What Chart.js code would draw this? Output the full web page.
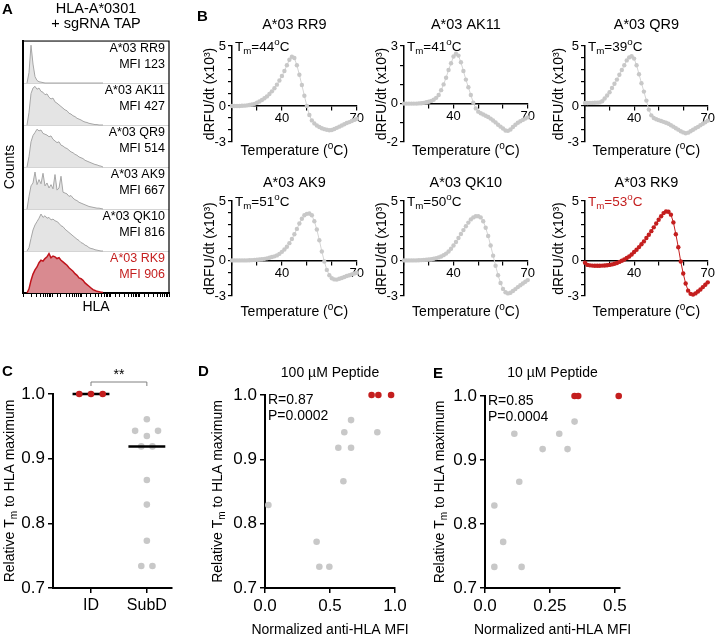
<!DOCTYPE html>
<html>
<head>
<meta charset="utf-8">
<script src="https://cdn.jsdelivr.net/npm/chart.js@4.4.1/dist/chart.umd.min.js"></script>
<style>
  body { margin: 0; background: #fff; }
  #fig { position: relative; width: 716px; height: 637px; overflow: hidden; font-family: "Liberation Sans", Arial, sans-serif; }
  #fig canvas { position: absolute; }
  .tag { position: absolute; font-weight: bold; font-size: 15px; line-height: 15px; }
</style>
</head>
<body>
<div id="fig">
  <canvas id="histo" width="175" height="318" style="left:0;top:0"></canvas>
  <canvas id="mRR9" width="167" height="146" style="left:198px;top:14px"></canvas>
  <canvas id="mAK11" width="166" height="146" style="left:370px;top:14px"></canvas>
  <canvas id="mQR9" width="165" height="146" style="left:551px;top:14px"></canvas>
  <canvas id="mAK9" width="167" height="152" style="left:198px;top:168px"></canvas>
  <canvas id="mQK10" width="166" height="152" style="left:370px;top:168px"></canvas>
  <canvas id="mRK9" width="165" height="152" style="left:551px;top:168px"></canvas>
  <canvas id="groups" width="200" height="282" style="left:0;top:355px"></canvas>
  <canvas id="pep100" width="215" height="282" style="left:200px;top:355px"></canvas>
  <canvas id="pep10" width="296" height="282" style="left:420px;top:355px"></canvas>
  <div class="tag" style="left:2px;top:1px">A</div>
  <div class="tag" style="left:197px;top:8px">B</div>
  <div class="tag" style="left:2px;top:363px">C</div>
  <div class="tag" style="left:198px;top:363px">D</div>
  <div class="tag" style="left:433px;top:365px">E</div>
</div>
<script>
const GREY = '#c8c8c8';
const RED = '#c41e1e';
Chart.defaults.font.family = '"Liberation Sans", Arial, sans-serif';
Chart.defaults.color = '#000';
Chart.defaults.animation = false;

// ---- panel A: HLA histograms (top lane first), bin = channel offset
const hlaBins = [4, 6, 8, 10, 12, 14, 16, 18, 20, 22, 24, 26, 28, 30, 32, 34, 36, 38, 40, 42,
  44, 46, 48, 50, 52, 54, 56, 58, 60, 62, 64, 66, 68, 70, 72, 74, 76, 78, 80];
const histRR9 = [0, 0.25, 0.9, 0.45, 0.15, 0.06, 0.03, 0.02, 0.01, 0, 0, 0, 0, 0, 0, 0, 0, 0, 0, 0,
  0, 0, 0, 0, 0, 0, 0, 0, 0, 0, 0, 0, 0, 0, 0, 0, 0, 0, 0];
const histAK11 = [0, 0.3, 0.75, 0.88, 0.92, 0.85, 0.88, 0.8, 0.78, 0.72, 0.74, 0.66, 0.62, 0.64, 0.55, 0.52, 0.48, 0.44, 0.4, 0.36,
  0.34, 0.28, 0.26, 0.22, 0.2, 0.16, 0.14, 0.12, 0.09, 0.07, 0.06, 0.04, 0.03, 0.02, 0.01, 0.01, 0, 0, 0];
const histQR9 = [0, 0.25, 0.6, 0.75, 0.82, 0.9, 0.86, 0.88, 0.8, 0.78, 0.76, 0.72, 0.74, 0.66, 0.62, 0.58, 0.6, 0.52, 0.5, 0.46,
  0.44, 0.4, 0.36, 0.34, 0.3, 0.28, 0.24, 0.22, 0.2, 0.16, 0.14, 0.12, 0.1, 0.08, 0.06, 0.05, 0.03, 0.02, 0];
const histAK9 = [0, 0.3, 0.55, 0.62, 0.88, 0.58, 0.7, 0.6, 0.85, 0.55, 0.62, 0.5, 0.58, 0.48, 0.82, 0.45, 0.5, 0.78, 0.4, 0.38,
  0.36, 0.3, 0.32, 0.26, 0.22, 0.2, 0.16, 0.14, 0.12, 0.1, 0.08, 0.06, 0.05, 0.04, 0.03, 0.02, 0.02, 0.01, 0];
const histQK10 = [0, 0.08, 0.3, 0.5, 0.62, 0.7, 0.78, 0.88, 0.8, 0.84, 0.78, 0.8, 0.74, 0.76, 0.72, 0.7, 0.66, 0.6, 0.58, 0.52,
  0.48, 0.44, 0.4, 0.36, 0.32, 0.28, 0.25, 0.2, 0.18, 0.14, 0.12, 0.08, 0.06, 0.05, 0.03, 0.02, 0.01, 0, 0];
const histRK9 = [0, 0.1, 0.3, 0.45, 0.55, 0.62, 0.72, 0.78, 0.76, 0.82, 0.86, 0.94, 0.84, 0.88, 0.86, 0.82, 0.84, 0.78, 0.74, 0.7,
  0.66, 0.6, 0.56, 0.52, 0.46, 0.42, 0.36, 0.34, 0.3, 0.24, 0.2, 0.16, 0.12, 0.08, 0.06, 0.04, 0.03, 0.02, 0.01];
const laneNames = ['A*03 RR9', 'A*03 AK11', 'A*03 QR9', 'A*03 AK9', 'A*03 QK10', 'A*03 RK9'];
const laneMfi = [123, 427, 514, 667, 816, 906];

// ---- panel B: melt curves, dRFU/dt (x10^3)
const temps = [20, 21, 22, 23, 24, 25, 26, 27, 28, 29, 30, 31, 32, 33, 34, 35, 36, 37, 38, 39, 40,
  41, 42, 43, 44, 45, 46, 47, 48, 49, 50, 51, 52, 53, 54, 55, 56, 57, 58, 59, 60,
  61, 62, 63, 64, 65, 66, 67, 68, 69, 70];
const rr9Melt = [0, 0, 0, 0, 0.02, 0.03, 0.05, 0.08, 0.12, 0.18, 0.27, 0.38, 0.5, 0.65, 0.8, 1.0, 1.22, 1.48, 1.78, 2.12, 2.5,
  2.92, 3.4, 3.85, 4.1, 4.0, 3.4, 2.6, 1.75, 0.85, 0, -0.75, -1.2, -1.45, -1.62, -1.75, -1.85, -1.93, -1.98, -2.02, -2.0,
  -1.92, -1.82, -1.72, -1.62, -1.52, -1.42, -1.34, -1.25, -1.16, -1.08];
const ak11Melt = [0, 0, 0, 0, 0, 0, 0.01, 0.02, 0.04, 0.07, 0.1, 0.14, 0.2, 0.3, 0.45, 0.7, 1.0, 1.35, 1.75, 2.1, 2.45,
  2.6, 2.5, 2.15, 1.7, 1.25, 0.85, 0.45, 0.05, -0.25, -0.42, -0.5, -0.57, -0.63, -0.7, -0.78, -0.88, -0.98, -1.1, -1.2, -1.3,
  -1.4, -1.42, -1.35, -1.22, -1.1, -1.0, -0.92, -0.85, -0.78, -0.72];
const qr9Melt = [0.25, 0.25, 0.26, 0.26, 0.27, 0.28, 0.3, 0.4, 0.62, 0.88, 1.15, 1.5, 1.85, 2.2, 2.6, 3.0, 3.4, 3.8, 4.05, 4.15, 3.95,
  3.4, 2.65, 1.9, 1.2, 0.45, -0.3, -0.78, -1.0, -1.1, -1.18, -1.25, -1.32, -1.4, -1.48, -1.6, -1.72, -1.85, -1.97, -2.1, -2.2,
  -2.27, -2.22, -2.1, -1.98, -1.86, -1.74, -1.6, -1.48, -1.35, -1.22];
const ak9Melt = [0, 0, 0, 0, 0, 0, 0, 0.01, 0.02, 0.03, 0.05, 0.07, 0.1, 0.13, 0.17, 0.22, 0.28, 0.34, 0.42, 0.55, 0.72,
  0.92, 1.15, 1.45, 1.8, 2.2, 2.65, 3.1, 3.5, 3.8, 3.92, 3.95, 3.8, 3.3, 2.6, 1.7, 0.75, -0.1, -0.8, -1.25, -1.5,
  -1.6, -1.62, -1.55, -1.48, -1.4, -1.32, -1.25, -1.18, -1.1, -1.05];
const qk10Melt = [0, 0, 0, 0, 0, 0, 0.01, 0.02, 0.03, 0.05, 0.07, 0.1, 0.14, 0.19, 0.25, 0.33, 0.44, 0.57, 0.75, 0.98, 1.25,
  1.55, 1.88, 2.22, 2.55, 2.88, 3.18, 3.45, 3.62, 3.72, 3.72, 3.62, 3.3, 2.75, 2.05, 1.25, 0.4, -0.45, -1.25, -1.9, -2.4,
  -2.68, -2.78, -2.72, -2.58, -2.42, -2.25, -2.1, -1.95, -1.8, -1.66];
const rk9Melt = [-0.2, -0.38, -0.42, -0.44, -0.45, -0.45, -0.45, -0.44, -0.43, -0.41, -0.38, -0.34, -0.29, -0.22, -0.13, -0.03, 0.08, 0.2, 0.33, 0.5, 0.7,
  0.9, 1.12, 1.36, 1.6, 1.88, 2.16, 2.46, 2.78, 3.1, 3.42, 3.72, 3.98, 4.12, 4.1, 3.85, 3.2, 2.2, 1.1, -0.1, -1.1,
  -1.95, -2.55, -2.82, -2.88, -2.78, -2.62, -2.45, -2.25, -2.05, -1.85];
const meltNames = ['A*03 RR9', 'A*03 AK11', 'A*03 QR9', 'A*03 AK9', 'A*03 QK10', 'A*03 RK9'];
const meltTm = [44, 41, 39, 51, 50, 53];
const meltYMin = [-3, -2, -3, -3, -3, -3];
const meltYMax = [5, 3, 5, 5, 5, 5];

// ---- panel C: relative Tm by group
const groupNames = ['ID', 'SubD'];
const idTm = [1.0, 1.0, 1.0];
const idJitter = [-0.21, 0, 0.21];
const subdTm = [0.961, 0.943, 0.943, 0.935, 0.919, 0.919, 0.867, 0.829, 0.773, 0.734, 0.734];
const subdJitter = [0, -0.21, 0.2, 0, -0.1, 0.1, 0, 0, 0, -0.1, 0.1];
const groupMedian = [1.0, 0.919];

// ---- panels D, E: relative Tm vs normalized MFI
const mfi100Grey = [0.662, 0.61, 0.864, 0.564, 0.662, 0.603, 0.026, 0.397, 0.418, 0.495];
const tm100Grey = [0.961, 0.942, 0.942, 0.918, 0.918, 0.866, 0.829, 0.772, 0.733, 0.733];
const mfi100Red = [0.82, 0.872, 0.97];
const tm100Red = [1.0, 1.0, 1.0];
const mfi10Grey = [0.345, 0.113, 0.286, 0.222, 0.318, 0.132, 0.036, 0.07, 0.036, 0.141];
const tm10Grey = [0.96, 0.941, 0.941, 0.917, 0.917, 0.866, 0.829, 0.772, 0.733, 0.733];
const mfi10Red = [0.345, 0.359, 0.515];
const tm10Red = [1.0, 1.0, 1.0];
const mfi10Ticks = [0, 0.25, 0.5];
const mfi10TickLabels = ['0.0', '0.25', '0.5'];

// text with sub/superscript pieces: segs = [[text, ''|'sub'|'sup'], ...]
function drawRich(ctx, segs, x, y, size, color, align, rotate) {
  const fam = Chart.defaults.font.family;
  const small = size * 0.72;
  ctx.save();
  ctx.translate(x, y);
  if (rotate) ctx.rotate(-Math.PI / 2);
  const widths = segs.map(([t, m]) => {
    ctx.font = `${m ? small : size}px ${fam}`;
    return ctx.measureText(t).width;
  });
  const total = widths.reduce((a, b) => a + b, 0);
  let cx = align === 'center' ? -total / 2 : align === 'right' ? -total : 0;
  ctx.fillStyle = color;
  ctx.textBaseline = 'middle';
  ctx.textAlign = 'left';
  segs.forEach(([t, m], i) => {
    ctx.font = `${m ? small : size}px ${fam}`;
    const dy = m === 'sub' ? size * 0.3 : m === 'sup' ? -size * 0.33 : 0;
    ctx.fillText(t, cx, dy);
    cx += widths[i];
  });
  ctx.restore();
}

function textLayer(items) {
  return {
    id: 'textLayer',
    afterDraw(chart) {
      const a = chart.chartArea;
      items.forEach(it => {
        const x = (it.h === 'center' ? (a.left + a.right) / 2 : it.h === 'right' ? a.right : a.left) + (it.dx || 0);
        const y = (it.v === 'bottom' ? a.bottom : it.v === 'middle' ? (a.top + a.bottom) / 2 : a.top) + (it.dy || 0);
        drawRich(chart.ctx, it.segs, x, y, it.size || 13, it.color || '#000', it.align || 'left', it.rotate);
      });
    }
  };
}

const noInteract = {responsive: false, events: [], plugins: {legend: {display: false}, tooltip: {enabled: false}}};

// ---------------- A
const histSets = [histRR9, histAK11, histQR9, histAK9, histQK10, histRK9].map((h, k) => {
  const base = 5 - k;
  const red = k === 5;
  return {
    data: hlaBins.map((b, i) => ({x: b, y: base + h[i]})),
    borderColor: red ? '#c0141c' : '#a6a6a6',
    backgroundColor: red ? '#d98a90' : '#e4e4e4',
    borderWidth: red ? 1.5 : 1,
    pointRadius: 0,
    tension: 0,
    fill: {value: base}
  };
});

const laneLabels = {
  id: 'laneLabels',
  afterDraw(chart) {
    const {ctx, chartArea: a, scales: {y}} = chart;
    ctx.save();
    ctx.strokeStyle = '#000';
    ctx.lineWidth = 1.2;
    ctx.beginPath();
    ctx.moveTo(a.left, a.top);
    ctx.lineTo(a.right, a.top);
    ctx.lineTo(a.right, a.bottom);
    ctx.stroke();
    ctx.restore();
    laneNames.forEach((n, k) => {
      const top = y.getPixelForValue(6 - k);
      const col = k === 5 ? RED : '#000';
      drawRich(ctx, [[n, '']], a.right - 4, top + 7.5, 12.5, col, 'right');
      drawRich(ctx, [['MFI ' + laneMfi[k], '']], a.right - 4, top + 23.5, 12.5, col, 'right');
    });
  }
};

new Chart(document.getElementById('histo'), {
  type: 'line',
  data: {datasets: histSets},
  options: {
    ...noInteract,
    layout: {padding: {top: 41, bottom: 19, left: 0, right: 6}},
    scales: {
      x: {type: 'linear', min: 0, max: 146, display: false},
      xl: {type: 'logarithmic', min: 1, max: 100000, position: 'bottom',
        afterFit: s => { s.height = 6; },
        ticks: {autoSkip: false, maxRotation: 0, callback: () => ''},
        grid: {drawOnChartArea: false, tickLength: 4, color: '#000', lineWidth: 1},
        border: {color: '#000', width: 2}},
      y: {min: 0, max: 6, afterFit: s => { s.width = 23; },
        ticks: {display: false, stepSize: 1},
        grid: {color: '#d4d4d4', lineWidth: 1, drawTicks: false},
        border: {color: '#000', width: 2}}
    }
  },
  plugins: [laneLabels, textLayer([
    {segs: [['HLA-A*0301', '']], h: 'center', v: 'top', dy: -32.5, align: 'center', size: 14.5},
    {segs: [['+ sgRNA TAP', '']], h: 'center', v: 'top', dy: -17.5, align: 'center', size: 14.5},
    {segs: [['Counts', '']], h: 'left', dx: -13, v: 'middle', align: 'center', size: 14, rotate: true},
    {segs: [['HLA', '']], h: 'center', v: 'bottom', dy: 14, align: 'center', size: 14}
  ])]
});

// ---------------- B
const meltCanvases = ['mRR9', 'mAK11', 'mQR9', 'mAK9', 'mQK10', 'mRK9'];
const meltSeries = [rr9Melt, ak11Melt, qr9Melt, ak9Melt, qk10Melt, rk9Melt];
const rowLayout = [
  {padTop: 32, padBottom: 18, titleDy: -21, xTitleDy: 9},
  {padTop: 33, padBottom: 24, titleDy: -18, xTitleDy: 16}
];

meltCanvases.forEach((id, k) => {
  const row = rowLayout[k < 3 ? 0 : 1];
  const red = k === 5;
  const color = red ? RED : GREY;
  const yMin = meltYMin[k], yMax = meltYMax[k];
  new Chart(document.getElementById(id), {
    type: 'line',
    data: {datasets: [{
      data: temps.map((t, i) => ({x: t, y: meltSeries[k][i]})),
      borderColor: red ? RED : '#d4d4d4',
      backgroundColor: color,
      borderWidth: 1,
      pointRadius: 2.2,
      pointBorderWidth: 0,
      tension: 0,
      clip: false
    }]},
    options: {
      ...noInteract,
      layout: {padding: {top: row.padTop, bottom: row.padBottom, left: 0, right: 8}},
      scales: {
        x: {type: 'linear', min: 20, max: 70, position: {y: 0},
          afterFit: s => { s.height = 0; },
          ticks: {stepSize: 10, autoSkip: false, maxRotation: 0, padding: 1, font: {size: 13},
            callback: v => (v === 40 || v === 70) ? String(v) : ''},
          grid: {drawOnChartArea: false, tickLength: 4, color: '#000', lineWidth: 1.2},
          border: {color: '#000', width: 1.5}},
        y: {min: yMin, max: yMax, afterFit: s => { s.width = 34; },
          ticks: {stepSize: 1, autoSkip: false, padding: 2, font: {size: 13},
            callback: v => (v === yMin || v === 0 || v === yMax) ? String(v) : ''},
          grid: {drawOnChartArea: false, tickLength: 4, color: '#000', lineWidth: 1.2},
          border: {color: '#000', width: 1.5},
          title: {display: true, text: 'dRFU/dt (x10³)', font: {size: 14},
            padding: {top: k % 3 === 2 ? 0 : 4, bottom: 0}}}
      }
    },
    plugins: [textLayer([
      {segs: [[meltNames[k], '']], h: 'center', v: 'top', dy: row.titleDy, align: 'center', size: 14.5},
      {segs: [['T', ''], ['m', 'sub'], ['=' + meltTm[k], ''], ['o', 'sup'], ['C', '']],
        h: 'left', dx: 3, v: 'top', dy: 1, size: 13.5, color: red ? RED : '#000'},
      {segs: [['Temperature (', ''], ['o', 'sup'], ['C)', '']], h: 'center', v: 'bottom', dy: row.xTitleDy, align: 'center', size: 14}
    ])]
  });
});

// ---------------- C, D, E shared axes
function tmAxis(width) {
  return {min: 0.7, max: 1.0, afterFit: s => { s.width = width; },
    ticks: {stepSize: 0.1, padding: 3, font: {size: 17}, callback: v => v.toFixed(1)},
    grid: {drawOnChartArea: false, tickLength: 5, color: '#000', lineWidth: 1.5},
    border: {color: '#000', width: 2}};
}
function mfiAxisBase() {
  return {type: 'linear', afterFit: s => { s.height = 30; },
    ticks: {padding: 3, font: {size: 17}, autoSkip: false, maxRotation: 0},
    grid: {drawOnChartArea: false, tickLength: 5, color: '#000', lineWidth: 1.5},
    border: {color: '#000', width: 2}};
}
const yTitleSegs = [['Relative T', ''], ['m', 'sub'], [' to HLA maximum', '']];
function dots(xs, ys, color) {
  return {data: xs.map((x, i) => ({x: x, y: ys[i]})), backgroundColor: color,
    pointRadius: 3.3, pointBorderWidth: 0, showLine: false, clip: false};
}

// C
const sigBracket = {
  id: 'sigBracket',
  afterDraw(chart) {
    const {ctx, chartArea: a, scales: {x}} = chart;
    const x0 = x.getPixelForValue(0), x1 = x.getPixelForValue(1);
    const yb = a.top - 12;
    ctx.save();
    ctx.strokeStyle = '#808080';
    ctx.lineWidth = 1;
    ctx.beginPath();
    ctx.moveTo(x0, yb + 4); ctx.lineTo(x0, yb); ctx.lineTo(x1, yb); ctx.lineTo(x1, yb + 4);
    ctx.stroke();
    ctx.restore();
    drawRich(ctx, [['**', '']], (x0 + x1) / 2, yb - 7, 14, '#000', 'center');
  }
};
const medianSets = groupMedian.map((m, g) => ({
  data: [{x: g - 0.33, y: m}, {x: g + 0.33, y: m}],
  showLine: true, borderColor: '#000', borderWidth: 2.5, pointRadius: 0, clip: false
}));
const cX = mfiAxisBase();
cX.min = -0.68; cX.max = 1.45;
cX.afterBuildTicks = s => { s.ticks = groupNames.map((n, i) => ({value: i})); };
cX.ticks.font = {size: 16};
cX.ticks.callback = v => groupNames[v];
new Chart(document.getElementById('groups'), {
  type: 'scatter',
  data: {datasets: [
    dots(idJitter, idTm, RED),
    ...medianSets,
    dots(subdJitter.map(j => 1 + j), subdTm, GREY)
  ]},
  options: {
    ...noInteract,
    layout: {padding: {top: 39, bottom: 19, left: 0, right: 28}},
    scales: {x: cX, y: tmAxis(53)}
  },
  plugins: [sigBracket, textLayer([
    {segs: yTitleSegs, h: 'left', dx: -43, v: 'middle', align: 'center', size: 14, rotate: true}
  ])]
});

// D
const dX = mfiAxisBase();
dX.min = 0; dX.max = 1;
dX.ticks.stepSize = 0.5;
dX.ticks.callback = v => v.toFixed(1);
new Chart(document.getElementById('pep100'), {
  type: 'scatter',
  data: {datasets: [dots(mfi100Red, tm100Red, RED), dots(mfi100Grey, tm100Grey, GREY)]},
  options: {
    ...noInteract,
    layout: {padding: {top: 40, bottom: 19, left: 0, right: 20}},
    scales: {x: dX, y: tmAxis(65)}
  },
  plugins: [textLayer([
    {segs: [['100 µM Peptide', '']], h: 'center', v: 'top', dy: -22, align: 'center', size: 14},
    {segs: [['R=0.87', '']], h: 'left', dx: 3, v: 'top', dy: 5, size: 14},
    {segs: [['P=0.0002', '']], h: 'left', dx: 3, v: 'top', dy: 21, size: 14},
    {segs: [['Normalized anti-HLA MFI', '']], h: 'center', v: 'bottom', dy: 42, align: 'center', size: 14},
    {segs: yTitleSegs, h: 'left', dx: -47, v: 'middle', align: 'center', size: 14, rotate: true}
  ])]
});

// E
const eX = mfiAxisBase();
eX.min = 0; eX.max = 0.52;
eX.afterBuildTicks = s => { s.ticks = mfi10Ticks.map(v => ({value: v})); };
eX.ticks.callback = (v, i) => mfi10TickLabels[i];
new Chart(document.getElementById('pep10'), {
  type: 'scatter',
  data: {datasets: [dots(mfi10Red, tm10Red, RED), dots(mfi10Grey, tm10Grey, GREY)]},
  options: {
    ...noInteract,
    layout: {padding: {top: 41, bottom: 19, left: 0, right: 96}},
    scales: {x: eX, y: tmAxis(65)}
  },
  plugins: [textLayer([
    {segs: [['10 µM Peptide', '']], h: 'center', v: 'top', dy: -23, align: 'center', size: 14},
    {segs: [['R=0.85', '']], h: 'left', dx: 3, v: 'top', dy: 5, size: 14},
    {segs: [['P=0.0004', '']], h: 'left', dx: 3, v: 'top', dy: 21, size: 14},
    {segs: [['Normalized anti-HLA MFI', '']], h: 'center', v: 'bottom', dy: 42, align: 'center', size: 14},
    {segs: yTitleSegs, h: 'left', dx: -45, v: 'middle', align: 'center', size: 14, rotate: true}
  ])]
});
</script>
</body>
</html>
